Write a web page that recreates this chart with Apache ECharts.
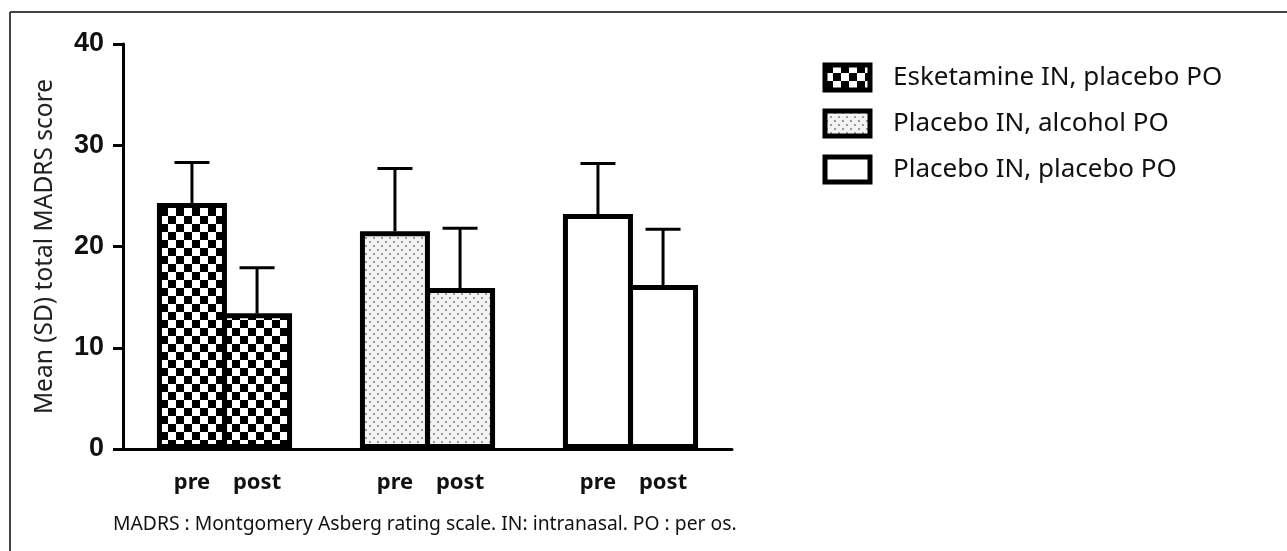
<!DOCTYPE html>
<html><head><meta charset="utf-8">
<script src="https://cdn.jsdelivr.net/npm/echarts@6/dist/echarts.min.js"></script>
<style>html,body{margin:0;padding:0;background:#fff}#c{width:1287px;height:551px}</style>
</head><body><div id="c"></div>
<script>
// ---- data ----
const groups = ['Esketamine IN, placebo PO', 'Placebo IN, alcohol PO', 'Placebo IN, placebo PO'];
const timepoints = ['pre', 'post'];
const preMean = [24.3, 21.5, 23.2];
const preSD = [4.0, 6.2, 5.0];
const postMean = [13.4, 15.9, 16.2];
const postSD = [4.5, 5.9, 5.5];
const yAxisName = 'Mean (SD) total MADRS score';
const footnote = 'MADRS : Montgomery Asberg rating scale. IN: intranasal. PO : per os.';

// ---- patterns ----
function checker() {
  const c = document.createElement('canvas'); c.width = 16; c.height = 16;
  const g = c.getContext('2d');
  g.fillStyle = '#fff'; g.fillRect(0, 0, 16, 16);
  g.fillStyle = '#000'; g.fillRect(0, 0, 8, 8); g.fillRect(8, 8, 8, 8);
  return { image: c, repeat: 'repeat' };
}
function dots() {
  const c = document.createElement('canvas'); c.width = 8; c.height = 8;
  const g = c.getContext('2d');
  g.fillStyle = '#f3f3f3'; g.fillRect(0, 0, 8, 8);
  g.fillStyle = '#9a9a9a'; g.fillRect(1, 1, 2, 2); g.fillRect(5, 5, 2, 2);
  return { image: c, repeat: 'repeat' };
}
const fills = [checker(), dots(), '#ffffff'];

const BAR_W = 70;
const BAR_GAP = -0.07;
const BORDER = 5;
const HALF_STEP = BAR_W * (1 + BAR_GAP) / 2;

function barData(means) {
  return means.map((v, i) => ({ value: v, itemStyle: { color: fills[i] } }));
}
function errData(means, sds) {
  return means.map((v, i) => [i, v, sds[i]]);
}
function errSeries(name, means, sds, side) {
  return {
    name: name + ' SD', type: 'custom', z: 1,
    data: errData(means, sds),
    encode: { x: 0, y: 1 },
    renderItem: function (params, api) {
      const base = api.coord([api.value(0), api.value(1)]);
      const top = api.coord([api.value(0), api.value(1) + api.value(2)]);
      const x = base[0] + side * HALF_STEP;
      const capHalf = 17.5;
      const st = { stroke: '#000', lineWidth: 3 };
      return {
        type: 'group', children: [
          { type: 'line', shape: { x1: x, y1: base[1], x2: x, y2: top[1] }, style: st },
          { type: 'line', shape: { x1: x - capHalf, y1: top[1], x2: x + capHalf, y2: top[1] }, style: st }
        ]
      };
    }
  };
}
const labelStyle = {
  show: true, position: 'bottom', distance: 23,
  formatter: p => p.seriesName,
  fontFamily: 'Noto Sans', fontSize: 22, fontWeight: 'bold', color: '#111'
};

const chart = echarts.init(document.getElementById('c'), null, { renderer: 'canvas' });
chart.setOption({
  backgroundColor: '#fff',
  animation: false,
  grid: [
    { left: 123, width: 609, top: 44, height: 405, outerBoundsMode: 'none' },
    { left: 0, top: 0, width: 1, height: 1, show: false, outerBoundsMode: 'none' }
  ],
  xAxis: [
    {
      type: 'category', data: groups, gridIndex: 0,
      axisLine: { lineStyle: { color: '#000', width: 3 } },
      axisTick: { alignWithLabel: true, length: 12, lineStyle: { color: '#000', width: 3 } },
      axisLabel: { show: false },
      splitLine: { show: false }
    },
    { type: 'category', data: ['x'], gridIndex: 1, show: false }
  ],
  yAxis: [
    {
      type: 'value', min: 0, max: 40, interval: 10, gridIndex: 0,
      name: yAxisName, nameLocation: 'middle', nameGap: 65, nameRotate: 90,
      nameTextStyle: { fontFamily: 'Noto Sans', fontSize: 24.5, color: '#222' },
      axisLine: { show: true, lineStyle: { color: '#000', width: 3 } },
      axisTick: { show: true, length: 10, lineStyle: { color: '#000', width: 3 } },
      axisLabel: { margin: 19, fontFamily: 'Liberation Sans', fontWeight: 'bold', fontSize: 27, color: '#111' },
      splitLine: { show: false }
    },
    { type: 'value', gridIndex: 1, show: false }
  ],
  legend: {
    data: groups, orient: 'vertical', left: 822.5, top: 62.5, padding: 0,
    icon: 'rect', itemWidth: 45, itemHeight: 25, itemGap: 16,
    itemStyle: { borderColor: '#000', borderWidth: BORDER },
    textStyle: { fontFamily: 'Noto Sans', fontSize: 26, color: '#111', padding: [0, 0, 0, 18] },
    selectedMode: false
  },
  graphic: [
    { type: 'line', shape: { x1: 10, y1: 12, x2: 1287, y2: 12 }, style: { stroke: '#444', lineWidth: 2 } },
    { type: 'line', shape: { x1: 10, y1: 12, x2: 10, y2: 551 }, style: { stroke: '#444', lineWidth: 2 } },
    { type: 'text', left: 113, top: 515, style: { text: footnote, font: '19.3px "Noto Sans"', fill: '#111' } }
  ],
  series: [
    {
      name: timepoints[0], type: 'bar', barWidth: BAR_W, barGap: (BAR_GAP * 100) + '%', z: 2,
      itemStyle: { borderColor: '#000', borderWidth: BORDER },
      label: labelStyle,
      data: barData(preMean)
    },
    {
      name: timepoints[1], type: 'bar', barWidth: BAR_W, barGap: (BAR_GAP * 100) + '%', z: 2,
      itemStyle: { borderColor: '#000', borderWidth: BORDER },
      label: labelStyle,
      data: barData(postMean)
    },
    errSeries(timepoints[0], preMean, preSD, -1),
    errSeries(timepoints[1], postMean, postSD, 1),
    ...groups.map((g, i) => ({
      name: g, type: 'bar', xAxisIndex: 1, yAxisIndex: 1, data: [],
      itemStyle: { color: fills[i], borderColor: '#000', borderWidth: BORDER }
    }))
  ]
});
</script>
</body></html>
